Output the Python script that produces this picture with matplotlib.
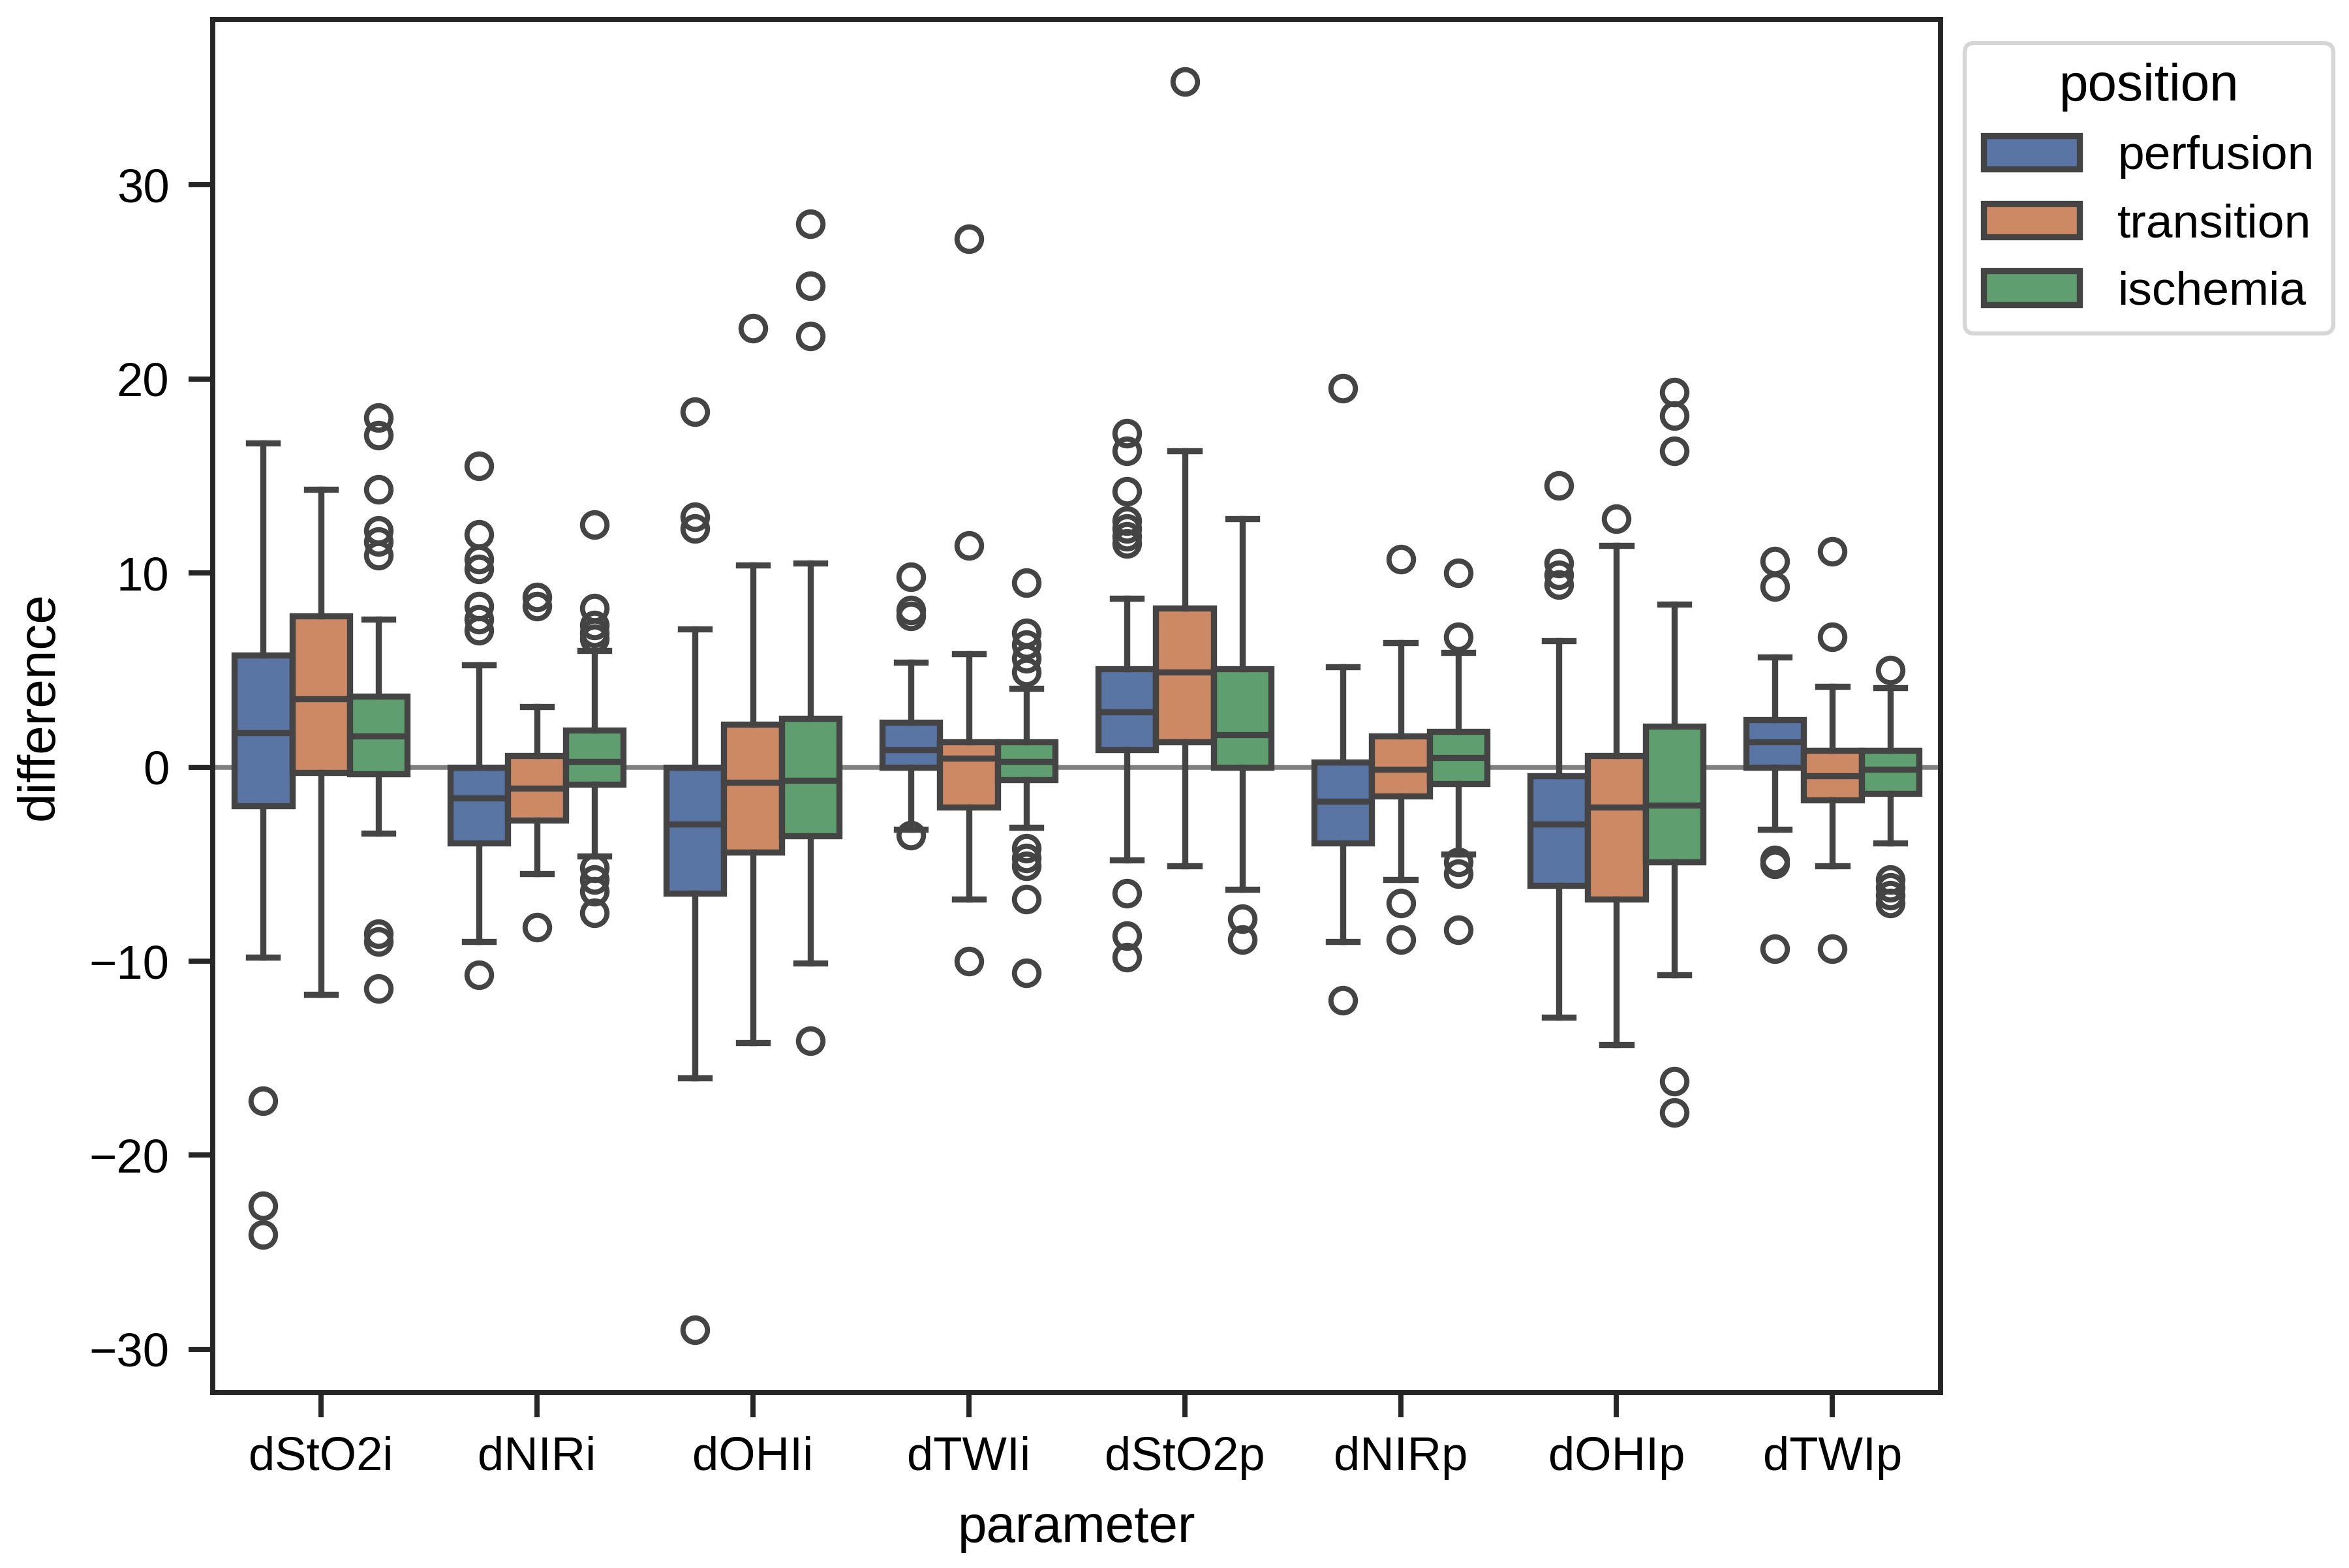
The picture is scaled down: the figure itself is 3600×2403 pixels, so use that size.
import numpy as np
import matplotlib.pyplot as plt
from matplotlib.patches import Patch

plt.rcParams['font.family'] = ['Liberation Sans', 'DejaVu Sans']

parameters = ['dStO2i', 'dNIRi', 'dOHIi', 'dTWIi', 'dStO2p', 'dNIRp', 'dOHIp', 'dTWIp']
positions = ['perfusion', 'transition', 'ischemia']

# perfusion
perf_lo = [-9.8, -9.0, -16.0, -3.2, -4.8, -9.0, -12.9, -3.2]
perf_q1 = [-2.0, -3.9, -6.5, 0.0, 0.9, -3.9, -6.1, 0.0]
perf_med = [1.75, -1.6, -2.95, 0.9, 2.85, -1.75, -2.95, 1.3]
perf_q3 = [5.75, 0.0, 0.0, 2.3, 5.05, 0.25, -0.45, 2.45]
perf_hi = [16.7, 5.25, 7.1, 5.4, 8.7, 5.15, 6.5, 5.65]
perf_fliers = [[-17.2, -22.6, -24.1],
               [15.5, 12.0, 10.7, 10.2, 8.3, 7.6, 7.05, -10.7],
               [18.3, 12.9, 12.3, -29.0],
               [9.8, 8.1, 7.8, -3.5],
               [17.2, 16.3, 14.2, 12.7, 12.3, 11.9, 11.5, -6.5, -8.7, -9.8],
               [19.5, -12.0],
               [14.5, 10.5, 9.9, 9.4],
               [10.6, 9.3, -4.8, -5.0, -9.35]]

# transition
trans_lo = [-11.7, -5.5, -14.2, -6.8, -5.1, -5.8, -14.3, -5.1]
trans_q1 = [-0.3, -2.75, -4.4, -2.05, 1.3, -1.5, -6.8, -1.7]
trans_med = [3.5, -1.1, -0.8, 0.45, 4.9, -0.1, -2.05, -0.45]
trans_q3 = [7.8, 0.6, 2.2, 1.3, 8.2, 1.6, 0.6, 0.85]
trans_hi = [14.3, 3.1, 10.4, 5.85, 16.3, 6.4, 11.4, 4.15]
trans_fliers = [[],
                [8.75, 8.3, -8.25],
                [22.6],
                [27.2, 11.4, -10.0],
                [35.3],
                [10.7, -7.0, -8.9],
                [12.8],
                [11.1, 6.7, -9.35]]

# ischemia
isch_lo = [-3.4, -4.6, -10.1, -3.1, -6.3, -4.5, -10.7, -3.9]
isch_q1 = [-0.35, -0.9, -3.55, -0.65, 0.0, -0.85, -4.9, -1.35]
isch_med = [1.6, 0.3, -0.7, 0.3, 1.65, 0.5, -1.95, -0.1]
isch_q3 = [3.65, 1.9, 2.5, 1.3, 5.05, 1.85, 2.1, 0.85]
isch_hi = [7.6, 6.0, 10.5, 4.05, 12.8, 5.9, 8.4, 4.1]
isch_fliers = [[18.0, 17.1, 14.3, 12.2, 11.6, 10.9, -8.6, -9.0, -11.4],
               [12.5, 8.2, 7.3, 6.9, 6.6, -5.2, -5.8, -6.4, -7.5],
               [28.0, 24.8, 22.2, -14.1],
               [9.5, 6.9, 6.3, 5.6, 4.9, -4.2, -4.7, -5.1, -6.8, -10.6],
               [-7.8, -8.9],
               [10.0, 6.7, -4.9, -5.5, -8.4],
               [19.3, 18.1, 16.3, -16.2, -17.8],
               [5.0, -5.8, -6.2, -6.6, -7.0]]

colors = ['#5875a4', '#cc8963', '#5f9e6e']
edge = '#444444'
lw = 2.25

groups = [
    (perf_lo, perf_q1, perf_med, perf_q3, perf_hi, perf_fliers),
    (trans_lo, trans_q1, trans_med, trans_q3, trans_hi, trans_fliers),
    (isch_lo, isch_q1, isch_med, isch_q3, isch_hi, isch_fliers),
]

fig = plt.figure(figsize=(12, 8.01), dpi=300)
ax = fig.add_axes([0.0906, 0.112, 0.7355, 0.8756])

ax.axhline(0, color='gray', lw=1.8, zorder=1)

w = 0.8 / 3
for j, (lo, q1, med, q3, hi, fl) in enumerate(groups):
    stats = []
    for i in range(len(parameters)):
        stats.append(dict(whislo=lo[i], q1=q1[i], med=med[i], q3=q3[i],
                          whishi=hi[i], fliers=fl[i]))
    pos = np.arange(len(parameters)) + (j - 1) * w
    ax.bxp(stats, positions=pos, widths=w, patch_artist=True, manage_ticks=False,
           boxprops=dict(facecolor=colors[j], edgecolor=edge, linewidth=lw),
           medianprops=dict(color=edge, linewidth=lw),
           whiskerprops=dict(color=edge, linewidth=lw),
           capprops=dict(color=edge, linewidth=lw),
           flierprops=dict(marker='o', markerfacecolor='none', markeredgecolor=edge,
                           markersize=9, markeredgewidth=1.9),
           zorder=2)

ax.set_xlim(-0.5, len(parameters) - 0.5)
ax.set_xticks(np.arange(len(parameters)))
ax.set_xticklabels(parameters)
ax.set_yticks([-30, -20, -10, 0, 10, 20, 30])
ax.set_yticklabels(['\u221230', '\u221220', '\u221210', '0', '10', '20', '30'])
ax.tick_params(labelsize=17.4, length=9, width=1.9, pad=7, color='.15', direction='out')
for s in ax.spines.values():
    s.set_color('.15')
    s.set_linewidth(1.9)
ax.set_xlabel('parameter', fontsize=19.2, labelpad=9)
ax.set_ylabel('difference', fontsize=19.2, labelpad=9)

handles = [Patch(facecolor=colors[j], edgecolor=edge, linewidth=lw, label=positions[j])
           for j in range(3)]
leg = ax.legend(handles=handles, title='position', loc='upper left',
                bbox_to_anchor=(1.0, 1.0), fontsize=17.6, title_fontsize=19.2,
                frameon=True)
leg.get_frame().set_edgecolor('0.8')
leg.get_frame().set_linewidth(1.5)

fig.savefig('out.png', dpi=300)
